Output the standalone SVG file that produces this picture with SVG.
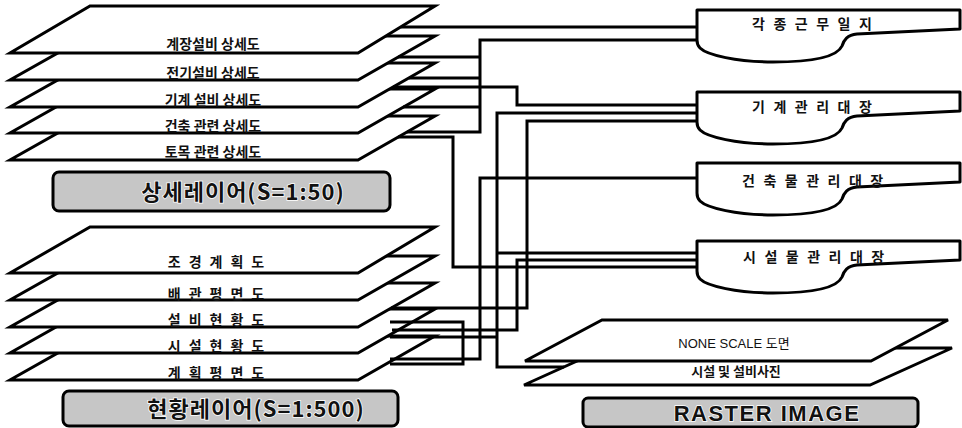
<svg xmlns="http://www.w3.org/2000/svg" width="962" height="428" viewBox="0 0 962 428">
<style>
.pl{fill:#fff;stroke:#000;stroke-width:3;stroke-linejoin:miter}
.doc{fill:#fff;stroke:#000;stroke-width:3;stroke-linejoin:round}
.cn{fill:none;stroke:#000;stroke-width:3;stroke-linejoin:miter}
.t{font-family:"Noto Sans CJK KR","Noto Sans",sans-serif;font-size:14px;font-weight:bold;fill:#111;text-anchor:middle}
.dt{font-family:"Noto Sans CJK KR","Noto Sans",sans-serif;font-size:14px;font-weight:bold;fill:#111;letter-spacing:8.5px}
.box{fill:#c6c6c6;stroke:#000;stroke-width:3}
.bt{font-family:"Noto Sans CJK KR","Liberation Sans",sans-serif;font-weight:bold;font-size:22px;fill:#111;text-anchor:middle;stroke:#fff;stroke-width:1.5;paint-order:stroke}
</style>
<defs>
<path id="docshape" d="M0,0 H263 V19 L160,24 C150,25 147,30 145,36 C140,47 115,52 76,52 C40,52 10,45 3,38 Q0,35 0,30 Z"/>
</defs>

<g id="detail-layer">
<g id="p-tomok"><polygon class="pl" points="88,116 435,116 358,160 10,160"/><text class="t" x="213" y="157">토목 관련 상세도</text></g>
<g id="p-geonchuk"><polygon class="pl" points="88,89 435,89 358,133 10,133"/><text class="t" x="213" y="131">건축 관련 상세도</text></g>
<g id="p-gigye"><polygon class="pl" points="88,63 435,63 358,107 10,107"/><text class="t" x="213" y="105">기계 설비 상세도</text></g>
<g id="p-jeongi"><polygon class="pl" points="88,36 435,36 358,80 10,80"/><text class="t" x="213" y="78">전기설비 상세도</text></g>
<g id="p-gyejang"><polygon class="pl" points="90,6 435,6 358,53 10,53"/><text class="t" x="213" y="49">계장설비 상세도</text></g>
</g>
<g id="label-detail"><rect class="box" x="53" y="172" width="337" height="39" rx="6"/><text class="bt" x="243" y="200" letter-spacing="1">상세레이어(S=1:50)</text></g>

<g id="status-layer">
<g id="p-gyehoek"><polygon class="pl" points="88,336 435,336 358,380 10,380"/><text class="t" x="220" y="378" letter-spacing="8">계획평면도</text></g>
<g id="p-siseol"><polygon class="pl" points="88,309 435,309 358,353 10,353"/><text class="t" x="220" y="351" letter-spacing="8">시설현황도</text></g>
<g id="p-seolbi"><polygon class="pl" points="88,283 435,283 358,327 10,327"/><text class="t" x="220" y="325" letter-spacing="8">설비현황도</text></g>
<g id="p-baegwan"><polygon class="pl" points="88,256 435,256 358,300 10,300"/><text class="t" x="220" y="299" letter-spacing="8">배관평면도</text></g>
<g id="p-jogyeong"><polygon class="pl" points="90,227 435,227 358,273 10,273"/><text class="t" x="220" y="267" letter-spacing="8">조경계획도</text></g>
</g>
<g id="label-status"><rect class="box" x="63" y="391" width="335" height="35" rx="6"/><text class="bt" x="256" y="417" letter-spacing="1">현황레이어(S=1:500)</text></g>

<g id="raster">
<g id="r-photo"><polygon class="pl" points="606,348 952,348 870,385 524,385"/><text class="t" x="736" y="376" style="font-size:13px">시설 및 설비사진</text></g>
<g id="r-nonescale"><polygon class="pl" points="602,320 948,320 871,361 525,361"/><text class="t" x="734" y="348" style="font-size:13px;font-weight:normal;font-family:'Liberation Sans','Noto Sans CJK KR',sans-serif">NONE SCALE 도면</text></g>
</g>
<g id="label-raster"><rect class="box" x="583" y="398" width="335" height="29" rx="5"/><text class="bt" x="767" y="421" style="font-family:'Liberation Sans',sans-serif" letter-spacing="1.5">RASTER IMAGE</text></g>

<g id="connectors">
<path class="cn" d="M401,27 H697"/>
<path class="cn" d="M697,40 H480 V132 H407 M398,57 H480 M409,78 H480 M403,107 H480"/>
<path class="cn" d="M393,87 H517 V105 H697"/>
<path class="cn" d="M697,113 H497 V367 H564 M497,253 H697 M390,337 H497"/>
<path class="cn" d="M697,121 H527 V308 H391"/>
<path class="cn" d="M398,137 H453 V267 H697"/>
<path class="cn" d="M697,178 H480 V359 H390"/>
<path class="cn" d="M697,260 H517 V330 H392"/>
<path class="cn" d="M390,322 H463 V364 H390"/>
</g>

<g id="doc-geunmu"><use href="#docshape" class="doc" x="697" y="10"/><text class="dt" x="752" y="29">각종근무일지</text></g>
<g id="doc-gigye"><use href="#docshape" class="doc" x="697" y="92"/><text class="dt" x="752" y="112">기계관리대장</text></g>
<g id="doc-geonchuk"><use href="#docshape" class="doc" x="697" y="163"/><text class="dt" x="742" y="186">건축물관리대장</text></g>
<g id="doc-siseol"><use href="#docshape" class="doc" x="697" y="241"/><text class="dt" x="743" y="262">시설물관리대장</text></g>
</svg>
